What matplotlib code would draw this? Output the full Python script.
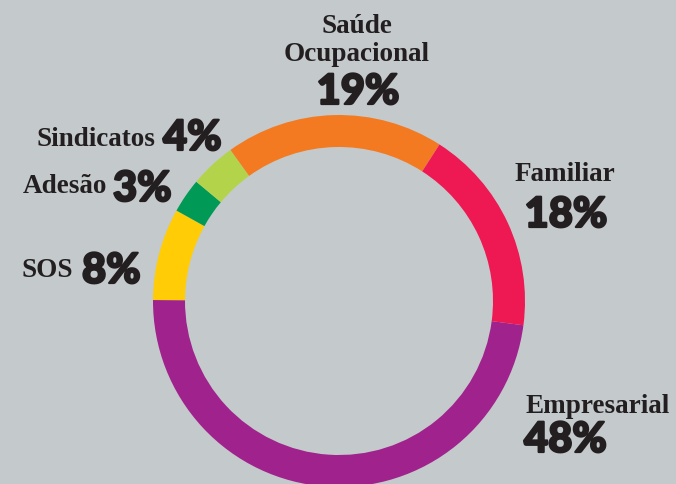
import matplotlib.pyplot as plt
import matplotlib.patheffects as pe

# data
labels = ["Empresarial", "SOS", "Adesão", "Sindicatos", "Saúde\nOcupacional", "Familiar"]
shares = [48, 8, 3, 4, 19, 18]
colors = ["#A0228C", "#FFCC05", "#009A56", "#B3D44A", "#F47A22", "#EE1852"]

bg = "#C4C9CC"
ink = "#231F20"
W, H = 676, 485

fig = plt.figure(figsize=(W / 100, H / 100), dpi=100, facecolor=bg)
ax = fig.add_axes([0, 0, 1, 1])
ax.set_facecolor(bg)

ax.pie(shares, colors=colors, startangle=-7.5, counterclock=False,
       center=(339, H - 302), radius=186, frame=True,
       wedgeprops=dict(width=32, linewidth=0))
ax.set_xlim(0, W)
ax.set_ylim(0, H)
ax.set_aspect("equal")
ax.axis("off")

heavy = [pe.withStroke(linewidth=1.6, foreground=ink)]
lab_font = dict(family="Liberation Serif", fontweight="bold", fontsize=19.5, color=ink)
pct_font = dict(family="Lato", fontweight="black", fontsize=30, color=ink, path_effects=heavy)

def pct(v):
    return f"{v}%"

# Saúde Ocupacional (top, centred)
ax.text(357, H - 33, "Saúde", ha="center", va="baseline", **lab_font)
ax.text(357, H - 61, "Ocupacional", ha="center", va="baseline", **lab_font)
ax.text(358, H - 105, pct(shares[4]), ha="center", va="baseline", **pct_font)

# Familiar
ax.text(565, H - 181, labels[5], ha="center", va="baseline", **lab_font)
ax.text(566, H - 228, pct(shares[5]), ha="center", va="baseline", **pct_font)

# Empresarial
ax.text(525, H - 413, labels[0], ha="left", va="baseline", **lab_font)
ax.text(524, H - 453, pct(shares[0]), ha="left", va="baseline", **pct_font)

# left side: label then percent on one line
ax.text(155, H - 146, labels[3], ha="right", va="baseline", **lab_font)
ax.text(163, H - 151, pct(shares[3]), ha="left", va="baseline", **pct_font)

ax.text(107, H - 193, labels[2], ha="right", va="baseline", **lab_font)
ax.text(113, H - 202, pct(shares[2]), ha="left", va="baseline", **pct_font)

ax.text(73, H - 277, labels[1], ha="right", va="baseline", **lab_font)
ax.text(82, H - 284, pct(shares[1]), ha="left", va="baseline", **pct_font)

fig.savefig("out.png", dpi=100, facecolor=bg)
